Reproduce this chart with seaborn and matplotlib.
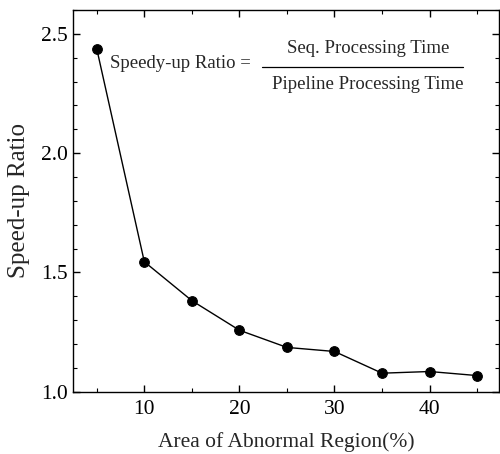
import matplotlib
matplotlib.use("Agg")
import matplotlib.pyplot as plt
import numpy as np
import pandas as pd
import seaborn as sns
from matplotlib.ticker import MultipleLocator

# values
area_pct = [5, 10, 15, 20, 25, 30, 35, 40, 45]
speedup = [2.437, 1.545, 1.382, 1.258, 1.186, 1.169, 1.078, 1.085, 1.068]

df = pd.DataFrame({"area": area_pct, "speedup": speedup})

sns.set_style("ticks")
plt.rcParams['font.family'] = ['Liberation Serif', 'DejaVu Serif']

fig = plt.figure(figsize=(5.0, 4.54), dpi=100)
ax = fig.add_axes([0.146, 0.137, 0.852, 0.841])

sns.lineplot(data=df, x="area", y="speedup", ax=ax, color="black",
             linewidth=1.0, marker="o", markersize=7, markeredgecolor="black")

ax.set_xlim(2.5, 47.3)
ax.set_ylim(1.0, 2.6)
ax.xaxis.set_major_locator(MultipleLocator(10))
ax.xaxis.set_minor_locator(MultipleLocator(5))
ax.yaxis.set_major_locator(MultipleLocator(0.5))
ax.yaxis.set_minor_locator(MultipleLocator(0.1))
ax.tick_params(which="both", direction="in", top=True, right=True,
               labelsize=15.5, color="black", labelcolor="black")
ax.tick_params(which="major", length=5, width=1)
ax.tick_params(which="minor", length=3, width=0.8)
ax.tick_params(axis="x", which="major", pad=6)
for s in ax.spines.values():
    s.set_color("black")
    s.set_linewidth(1.0)

ax.set_xlabel("Area of Abnormal Region(%)", fontsize=15.5, labelpad=9)
ax.set_ylabel("Speed-up Ratio", fontsize=18, labelpad=8)

# formula annotation
ax.text(0.087, 0.861, "Speedy-up Ratio =", transform=ax.transAxes,
        fontsize=13.5, ha="left", va="center")
ax.text(0.692, 0.90, "Seq. Processing Time", transform=ax.transAxes,
        fontsize=13.5, ha="center", va="center")
ax.text(0.692, 0.806, "Pipeline Processing Time", transform=ax.transAxes,
        fontsize=13.5, ha="center", va="center")
ax.plot([0.444, 0.915], [0.851, 0.851], transform=ax.transAxes,
        color="black", linewidth=0.9)

fig.savefig("out.png", dpi=100)
